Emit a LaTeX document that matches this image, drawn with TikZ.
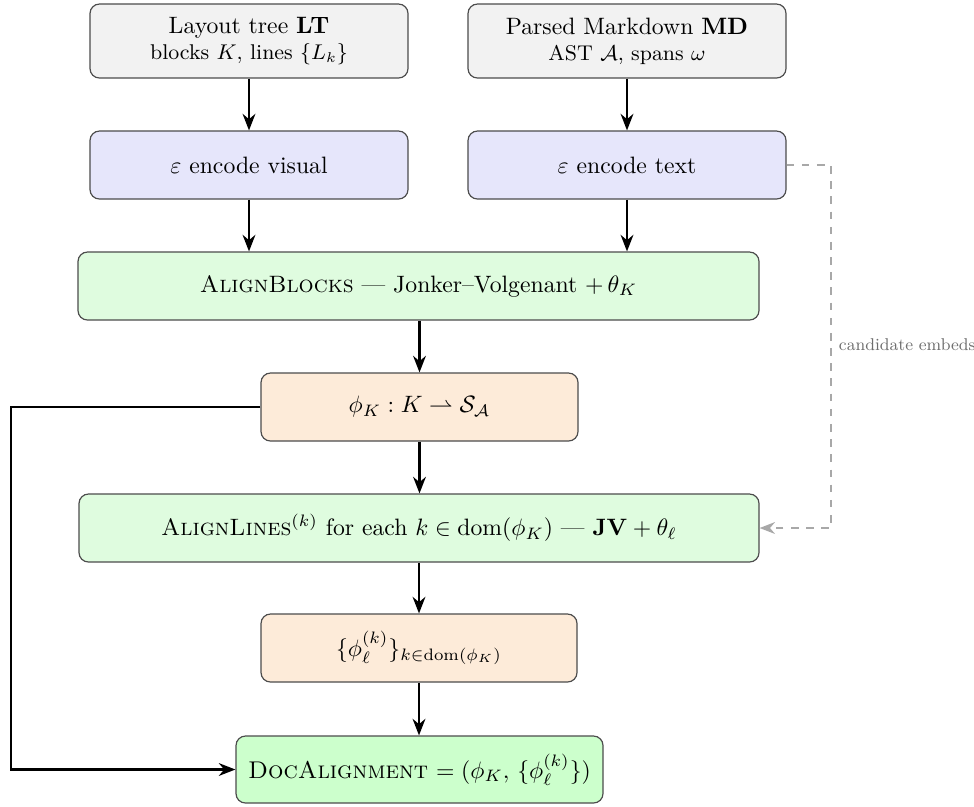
\documentclass[tikz,border=0pt]{standalone}
\usetikzlibrary{arrows.meta}

% one drawing unit of the layout grid
\def\pxu{0.4219pt}

\definecolor{srcfill}{HTML}{F2F2F2}
\definecolor{encfill}{HTML}{E6E6FB}
\definecolor{algfill}{HTML}{DFFCDF}
\definecolor{mapfill}{HTML}{FDEBD9}
\definecolor{outfill}{HTML}{CCFFCC}
\definecolor{edgegray}{HTML}{A8A8A8}
\definecolor{notegray}{HTML}{6E6E6E}

\tikzset{
  x=\pxu, y=-\pxu,
  box/.style={draw=black!70, line width=0.5pt, rounded corners=4pt,
    inner xsep=4pt, inner ysep=0pt, align=center, text=black},
  srcbox/.style={box, fill=srcfill, minimum width=318*\pxu, minimum height=74*\pxu},
  encbox/.style={box, fill=encfill, minimum width=318*\pxu, minimum height=68*\pxu},
  algbox/.style={box, fill=algfill, minimum width=681*\pxu, minimum height=68*\pxu},
  mapbox/.style={box, fill=mapfill, minimum width=317*\pxu, minimum height=68*\pxu},
  outbox/.style={box, fill=outfill, minimum width=367*\pxu, minimum height=67*\pxu,
    inner xsep=2pt},
  arr/.style={-{Stealth[length=7pt,width=5.4pt]}, line width=0.9pt, black},
  dasharr/.style={-{Stealth[length=6.5pt,width=5pt]}, line width=0.8pt,
    dash pattern=on 3.2pt off 3.2pt, edgegray},
  note/.style={font=\small, text=notegray, anchor=west, inner xsep=4pt,
    scale=0.8, transform shape}
}

\begin{document}
\begin{tikzpicture}
\useasboundingbox (0,0) rectangle (974,806);

% inputs
\node[srcbox] (lt) at (249,41) {Layout tree $\mathbf{LT}$\\[-1pt]{\small blocks $K$, lines $\{L_k\}$}};
\node[srcbox] (md) at (627,41) {Parsed Markdown $\mathbf{MD}$\\[-1pt]{\small AST $\mathcal{A}$, spans $\omega$}};

% encoders
\node[encbox] (ev) at (249,165) {$\varepsilon$ encode visual};
\node[encbox] (et) at (627,165) {$\varepsilon$ encode text};

% block level alignment
\node[algbox] (ab) at (418.5,286) {\textsc{AlignBlocks} --- Jonker--Volgenant $+\,\theta_K$};
\node[mapbox] (phik) at (419.5,407) {$\phi_K : K \rightharpoonup \mathcal{S}_{\mathcal{A}}$};

% line level alignment
\node[algbox, minimum width=680*\pxu] (al) at (419,528) {\textsc{AlignLines}$^{(k)}$ for each $k\in\mathrm{dom}(\phi_K)$ --- $\mathbf{JV}+\theta_\ell$};
\node[mapbox, minimum width=316*\pxu] (phil) at (419,648) {$\{\phi_\ell^{(k)}\}_{k\in\mathrm{dom}(\phi_K)}$};

% result
\node[outbox, font=\fontsize{10.2pt}{12pt}\selectfont] (doc) at (419.5,769.5) {\textsc{DocAlignment} $=(\phi_K,\,\{\phi_\ell^{(k)}\})$};

% main flow
\draw[arr] (lt) -- (ev);
\draw[arr] (md) -- (et);
\draw[arr] (ev.south) -- (ev.south |- ab.north);
\draw[arr] (et.south) -- (et.south |- ab.north);
\draw[arr] (ab.south -| phik.north) -- (phik.north);
\draw[arr] (phik.south) -- (phik.south |- al.north);
\draw[arr] (al.south -| phil.north) -- (phil.north);
\draw[arr] (phil.south) -- (phil.south |- doc.north);

% block map carried straight to the result
\coordinate (lrail) at (11,600);
\draw[arr] (phik.west) -| (lrail) |- (doc.west);

% text embeddings reused for the line stage
\coordinate (rrail) at (831,345);
\draw[dasharr] (et.east) -| (rrail) |- (al.east);
\node[note] (cand) at (rrail) {candidate embeds};
\end{tikzpicture}
\end{document}
